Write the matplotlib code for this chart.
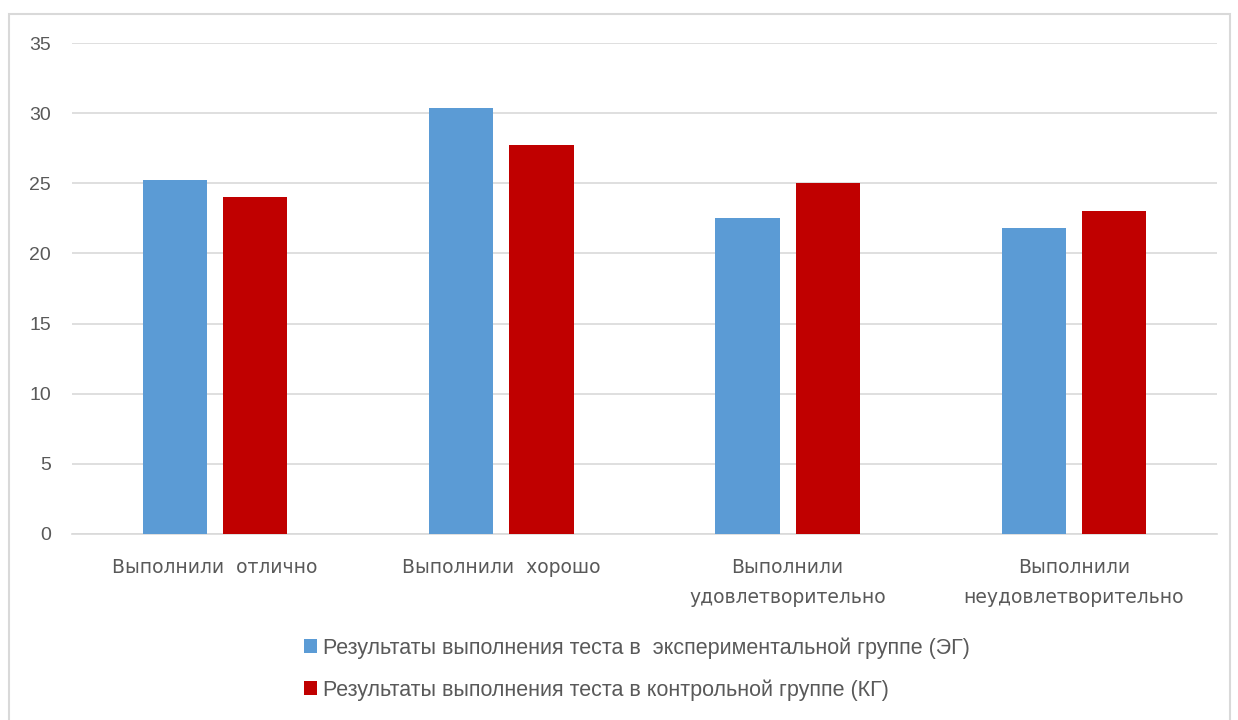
import matplotlib
matplotlib.use("Agg")
import matplotlib.pyplot as plt
import numpy as np
from matplotlib.patches import Rectangle

categories = ["Выполнили  отлично", "Выполнили  хорошо", "Выполнили\nудовлетворительно", "Выполнили\nнеудовлетворительно"]
series_names = ["Результаты выполнения теста в  экспериментальной группе (ЭГ)",
                "Результаты выполнения теста в контрольной группе (КГ)"]
eg_values = [25.2, 30.4, 22.5, 21.8]
kg_values = [24.0, 27.7, 25.0, 23.0]
colors = ["#5B9BD5", "#C00000"]
yticks = [0, 5, 10, 15, 20, 25, 30, 35]

W, H = 1238, 720
fig = plt.figure(figsize=(W / 100, H / 100), dpi=100)
fig.patch.set_facecolor("white")

# outer chart frame
fig.patches.append(Rectangle((9 / W, -0.05), (1230 - 9) / W, 1.05 - 14 / H,
                             transform=fig.transFigure, fill=False,
                             edgecolor="#d9d9d9", linewidth=1.5))

ax = fig.add_axes([72 / W, 1 - 534 / H, (1217 - 72) / W, (534 - 43) / H])
x = np.arange(len(categories))
bw = 0.224
off = 0.14
b1 = ax.bar(x - off, eg_values, bw, color=colors[0], label=series_names[0], zorder=3)
b2 = ax.bar(x + off, kg_values, bw, color=colors[1], label=series_names[1], zorder=3)

ax.set_xlim(-0.5, len(categories) - 0.5)
ax.set_ylim(0, 35)
ax.set_yticks(yticks)
ax.yaxis.grid(True, color="#d9d9d9", linewidth=1.2, zorder=0)
ax.set_axisbelow(True)
for s in ["top", "right", "left"]:
    ax.spines[s].set_visible(False)
ax.spines["bottom"].set_color("#d9d9d9")
ax.spines["bottom"].set_linewidth(1.2)
ax.tick_params(axis="both", length=0, colors="#595959")
ax.tick_params(axis="y", pad=15)
ax.tick_params(axis="x", pad=17)
ax.set_xticks(x)
ax.set_xticklabels(categories, fontsize=13.5, color="#595959",
                   family=["DejaVu Sans"], linespacing=1.75)
for lab in ax.get_yticklabels():
    lab.set_fontsize(14)
    lab.set_color("#595959")
    lab.set_family(["Liberation Sans", "DejaVu Sans"])

leg = fig.legend(handles=[b1, b2], labels=series_names, loc="center",
                 bbox_to_anchor=(637 / W, 1 - 669 / H), ncol=1, frameon=False,
                 prop={"family": ["Liberation Sans Narrow", "Liberation Sans", "DejaVu Sans"], "size": 15.5},
                 handlelength=0.6, handleheight=0.6, handletextpad=0.3, labelspacing=0.95)
for t in leg.get_texts():
    t.set_color("#595959")

fig.savefig("out.png", dpi=100, facecolor="white")
